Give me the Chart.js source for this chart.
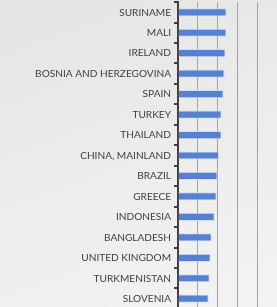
<!DOCTYPE html>
<html>
<head>
<meta charset="utf-8">
<script src="https://cdn.jsdelivr.net/npm/chart.js@4/dist/chart.umd.min.js"></script>
<style>
  html, body { margin: 0; padding: 0; overflow: hidden; }
  body {
    width: 277px; height: 307px;
    background: linear-gradient(160deg, #e4e4e4 0%, #ececec 50%, #f3f3f3 100%);
  }
  #wrap { position: absolute; left: 0; top: -7px; width: 277px; height: 325px; }
</style>
</head>
<body>
<div id="wrap"><canvas id="chart"></canvas></div>
<script>
const countries = [
  "SURINAME", "MALI", "IRELAND", "BOSNIA AND HERZEGOVINA", "SPAIN",
  "TURKEY", "THAILAND", "CHINA, MAINLAND", "BRAZIL", "GREECE",
  "INDONESIA", "BANGLADESH", "UNITED KINGDOM", "TURKMENISTAN", "SLOVENIA"
];
const values = [
  2.45, 2.45, 2.4, 2.35, 2.3,
  2.2, 2.2, 2.07, 2.0, 1.95,
  1.85, 1.7, 1.65, 1.6, 1.55
];

const barColor = "#5680d0";

const ctx = document.getElementById("chart").getContext("2d");
new Chart(ctx, {
  type: "bar",
  data: {
    labels: countries,
    datasets: [{
      data: values,
      backgroundColor: barColor,
      borderColor: "rgba(205,218,240,0.9)",
      borderWidth: 1,
      categoryPercentage: 1,
      barPercentage: 0.4,
    }],
  },
  options: {
    indexAxis: "y",
    responsive: true,
    maintainAspectRatio: false,
    animation: false,
    layout: { padding: 0 },
    plugins: { legend: { display: false }, tooltip: { enabled: false } },
    scales: {
      x: {
        min: 0,
        max: 5,
        ticks: { display: false, stepSize: 1 },
        grid: { color: "#a4a4a4", drawTicks: false },
        border: { display: false },
      },
      y: {
        afterFit: (s) => { s.width = 178; },
        ticks: {
          color: "#404040",
          padding: 3,
          font: { family: "Lato", size: 10.1 },
        },
        grid: {
          drawOnChartArea: false,
          drawTicks: true,
          tickLength: 4,
          lineWidth: 2,
          color: "#404040",
        },
        border: { display: true, color: "#404040", width: 2 },
      },
    },
  },
});
</script>
</body>
</html>
